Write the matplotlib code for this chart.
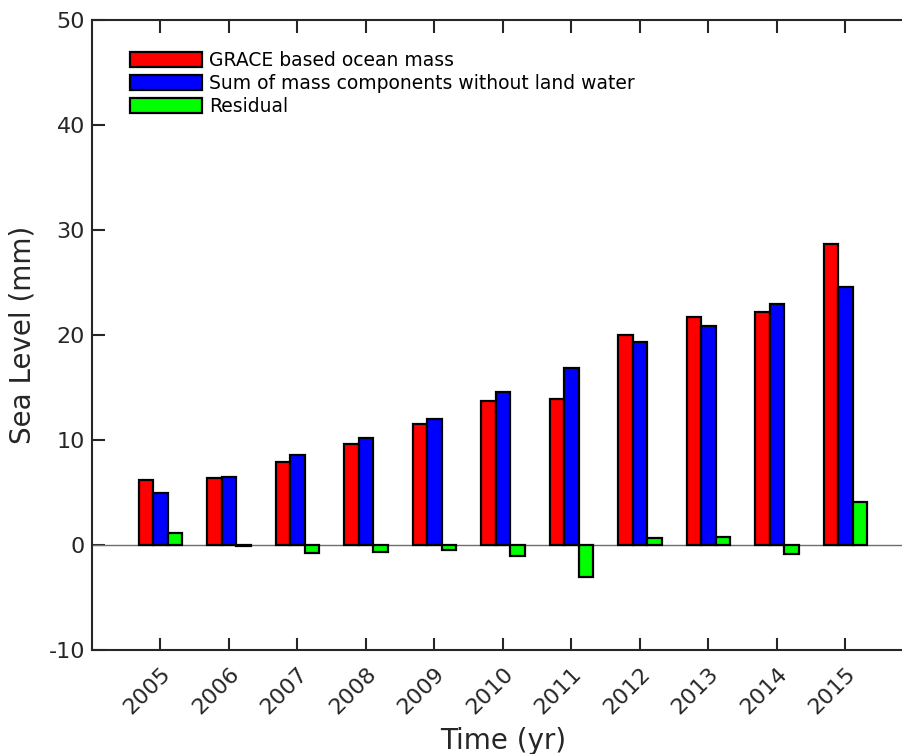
import matplotlib
matplotlib.use("Agg")
import matplotlib.pyplot as plt
import numpy as np

years = [2005, 2006, 2007, 2008, 2009, 2010, 2011, 2012, 2013, 2014, 2015]
grace = [6.2, 6.4, 7.9, 9.6, 11.5, 13.7, 13.9, 20.0, 21.7, 22.2, 28.7]
summass = [5.0, 6.5, 8.6, 10.2, 12.0, 14.6, 16.9, 19.3, 20.9, 23.0, 24.6]
residual = [1.15, -0.1, -0.75, -0.65, -0.5, -1.0, -3.0, 0.65, 0.8, -0.85, 4.05]
labels = ["GRACE based ocean mass",
          "Sum of mass components without land water",
          "Residual"]
colors = ["#ff0000", "#0000ff", "#00ff00"]

txt = "#262626"
plt.rcParams['font.family'] = ['DejaVu Sans']
plt.rcParams['axes.unicode_minus'] = False

fig = plt.figure(figsize=(9.03, 7.54), dpi=100)
ax = fig.add_axes([92/903, 1-650/754, (914-92)/903, (650-20)/754])

x = np.array(years, dtype=float)
w = 0.21
for i, (vals, lab, c) in enumerate(zip([grace, summass, residual], labels, colors)):
    ax.bar(x + (i-1)*w, vals, width=w, color=c, edgecolor="black",
           linewidth=1.6, label=lab, zorder=3)

ax.axhline(0, color="#6e6e6e", linewidth=1.0, zorder=2)

ax.set_xlim(2004, 2016)
ax.set_ylim(-10, 50)
ax.set_yticks(range(-10, 51, 10))
ax.set_xticks(years)
ax.set_xticklabels([str(y) for y in years], rotation=45, ha="right",
                   va="top", rotation_mode="anchor")

ax.tick_params(axis="both", direction="in", length=9, width=1.5,
               colors=txt, labelsize=16, top=True, right=True)
ax.tick_params(axis="x", pad=10)
ax.tick_params(axis="y", pad=5)
for s in ax.spines.values():
    s.set_color(txt)
    s.set_linewidth(1.5)

ax.set_ylabel("Sea Level (mm)", fontsize=20, color=txt, labelpad=9)
ax.set_xlabel("Time (yr)", fontsize=20, color=txt, labelpad=6)

leg = ax.legend(loc="upper left", bbox_to_anchor=(0.037, 0.962), frameon=False,
                fontsize=13.5, handlelength=3.85, handleheight=0.85,
                handletextpad=0.35, labelspacing=0.2, borderaxespad=0)

fig.savefig("out.png", dpi=100)
